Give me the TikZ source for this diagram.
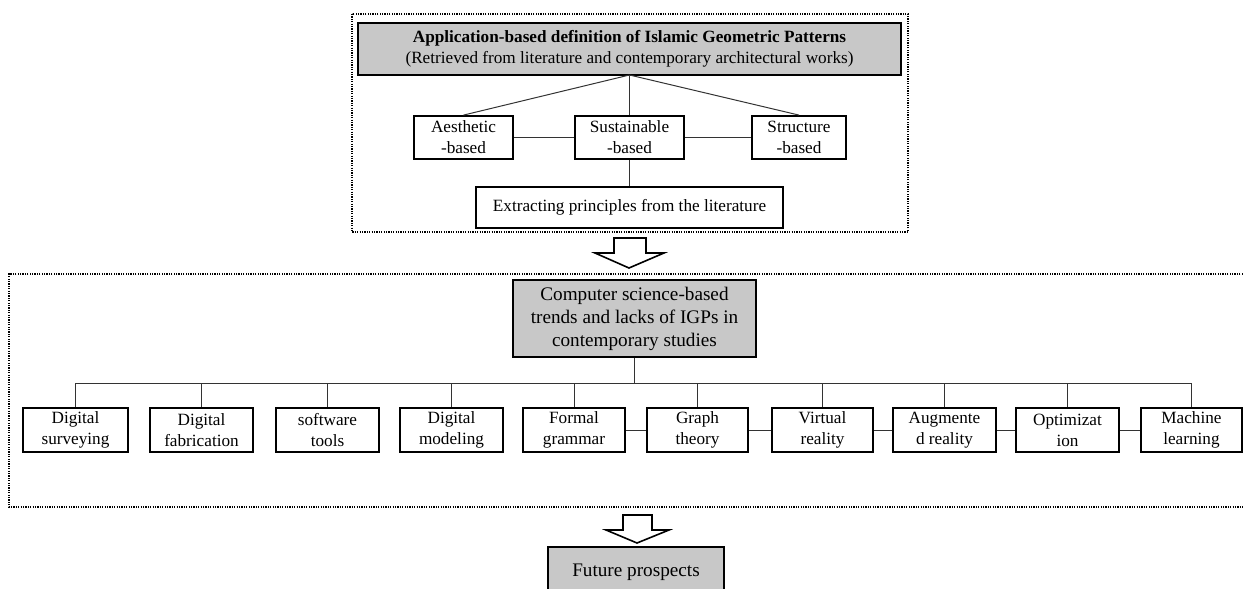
\documentclass[tikz,border=0pt]{standalone}
\usepackage{fontspec}
\setmainfont{Liberation Serif}
\definecolor{boxgray}{RGB}{200,200,200}
\begin{document}
\begin{tikzpicture}[x=0.5pt,y=-0.5pt,
  txt/.style={font=\fontsize{8.6}{10.5}\selectfont, align=center, inner sep=0pt},
  bigtxt/.style={font=\fontsize{9.6}{11.5}\selectfont},
  wbox/.style={txt, draw=black, line width=0.9pt, fill=white},
  gbox/.style={txt, draw=black, line width=0.9pt, fill=boxgray},
  conn/.style={draw=black!80, line width=0.5pt},
  dotbox/.style={draw=black, line width=1.1pt, dash pattern=on 0.6pt off 0.6pt},
  bigarrow/.style={draw=black, line width=0.8pt, fill=white, line join=miter}]
\useasboundingbox (0,0) rectangle (1244,589);
\clip (0,0) rectangle (1244,589);

% top group
\draw[dotbox] (352,14) rectangle (908,232);
\node[gbox, minimum width=271.5pt, minimum height=26pt] (title) at (629.5,49)
  {\textbf{Application-based definition of Islamic Geometric Patterns}\\(Retrieved from literature and contemporary architectural works)};
\node[wbox, minimum width=49.5pt, minimum height=21.5pt] (aes) at (463.5,137.5) {Aesthetic\\-based};
\node[wbox, minimum width=54.5pt, minimum height=21.5pt] (sus) at (629.5,137.5) {Sustainable\\-based};
\node[wbox, minimum width=47pt, minimum height=21.5pt] (str) at (799,137.5) {Structure\\-based};
\node[wbox, minimum width=153.5pt, minimum height=20.5pt] (ext) at (629.5,207.5) {Extracting principles from the literature};
\coordinate (tb) at (629.5,75);
\draw[conn] (tb) -- (aes.north);
\draw[conn] (tb) -- (sus.north);
\draw[conn] (tb) -- (str.north);
\draw[conn] (aes.east) -- (sus.west);
\draw[conn] (sus.east) -- (str.west);
\draw[conn] (sus.south) -- (ext.north);

% arrow 1
\draw[bigarrow] (614,238) -- (646,238) -- (646,253) -- (664,253) -- (629,268) -- (595,253) -- (614,253) -- cycle;

% middle group
\draw[dotbox] (1250,274) -- (9,274) -- (9,507) -- (1250,507);
\node[gbox, bigtxt, minimum width=121.5pt, minimum height=38.5pt] (cs) at (634.5,318.5)
  {Computer science-based\\trends and lacks of IGPs in\\contemporary studies};
\foreach \n/\cx/\w/\t in {
  b1/75.5/52.5/{Digital\\surveying},
  b2/201.5/51.5/{Digital\\fabrication},
  b3/327.5/51.5/{software\\tools},
  b4/451.5/51.5/{Digital\\modeling},
  b5/574/51/{Formal\\grammar},
  b6/697.5/50.5/{Graph\\theory},
  b7/822.5/50.5/{Virtual\\reality},
  b8/944.5/51.5/{Augmente\\d reality},
  b9/1067.5/51.5/{Optimizat\\ion},
  b10/1191.5/50.5/{Machine\\learning}}
  {\node[wbox, minimum width=\w pt, minimum height=22pt] (\n) at (\cx,430) {\t};}
\coordinate (bus) at (634.5,383);
\draw[conn] (cs.south) -- (bus);
\draw[conn] (b1.north) -- (b1.north |- bus) -- (b10.north |- bus) -- (b10.north);
\foreach \n in {b2,b3,b4,b5,b6,b7,b8,b9}
  {\draw[conn] (\n.north) -- (\n.north |- bus);}
\draw[conn] (b5.east) -- (b6.west);
\draw[conn] (b6.east) -- (b7.west);
\draw[conn] (b7.east) -- (b8.west);
\draw[conn] (b8.east) -- (b9.west);
\draw[conn] (b9.east) -- (b10.west);

% arrow 2
\draw[bigarrow] (623,515) -- (652,515) -- (652,530) -- (669,530) -- (637,543) -- (606,530) -- (623,530) -- cycle;

% bottom
\node[gbox, bigtxt, minimum width=88pt, minimum height=25pt] (fut) at (636,572) {Future prospects};
\end{tikzpicture}
\end{document}
